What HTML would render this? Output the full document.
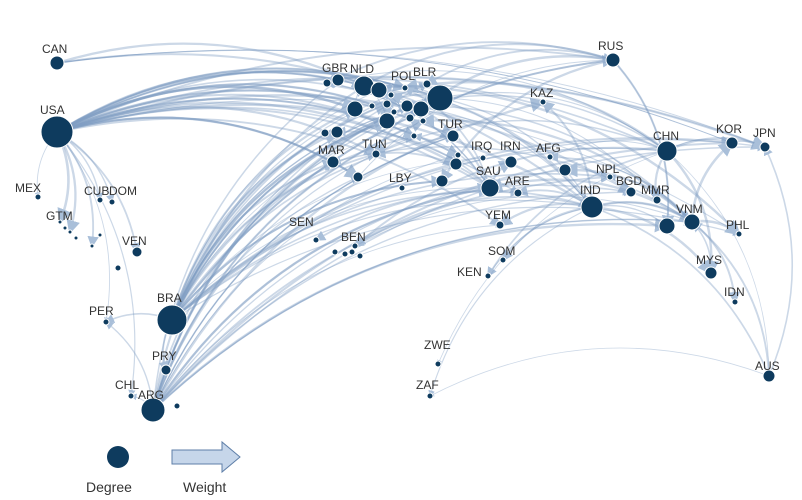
<!DOCTYPE html>
<html><head><meta charset="utf-8"><style>
html,body{margin:0;padding:0;background:#fff;}
svg{display:block;}
text{font-family:"Liberation Sans",sans-serif;font-size:12px;fill:#333;}
</style></head><body>
<svg id="s" width="802" height="500" viewBox="0 0 802 500" xmlns="http://www.w3.org/2000/svg">
<defs><marker id="a" markerWidth="6" markerHeight="6" refX="5" refY="3" orient="auto"><path d="M0,0L6,3L0,6z" fill="#a9bfd9"/></marker></defs>
<g id="e" fill="none" stroke="#7f9dc4" stroke-opacity="0.4"></g>
<g id="n" fill="#0e3b5e" stroke="#fff" stroke-width="1"></g>
<g id="t"></g>
<circle cx="118" cy="457" r="11" fill="#0e3b5e"/>
<path d="M172,450H222V442L240,457L222,472V464H172z" fill="#c6d6ea" stroke="#5f7fa8" stroke-width="1"/>
<text x="86" y="492" style="font-size:14px">Degree</text>
<text x="183" y="492" style="font-size:14px">Weight</text>
</svg>
<script>
(function(){
var N={CAN:[57,63,7],USA:[57,132,16],MEX:[38,197,3],CUB:[100,200,3],DOM:[112,202,3],VEN:[137,252,5],PER:[106,322,3],BRA:[172,320,15],PRY:[166,370,5],CHL:[131,396,3],ARG:[153,410,12],
g1:[60,222,2],g2:[65,228,2],g3:[70,232,2],g4:[76,238,2],g5:[92,246,2],g6:[118,268,3],g7:[100,235,2],g8:[177,406,3],
SEN:[316,240,3],BEN:[355,246,3],b1:[335,252,3],b2:[345,254,3],b3:[352,252,3],b4:[360,256,3],
n1:[327,83,4],GBR:[338,80,6],NLD:[364,86,10],n2:[379,90,8],n3:[391,95,3],POL:[405,88,3],BLR:[427,84,4],BIG:[440,98,13],n4:[355,109,8],n5:[372,106,3],n6:[387,104,4],n7:[394,112,3],n8:[407,106,6],n9:[421,109,8],n10:[410,118,4],n11:[423,121,3],n12:[387,121,8],n13:[325,133,4],n14:[337,132,6],n15:[414,136,3],TUR:[453,136,6],MAR:[333,162,6],TUN:[376,154,4],n16:[358,177,5],LBY:[402,188,3],n17:[442,181,6],n18:[458,155,3],n19:[456,164,6],IRQ:[483,158,3],IRN:[511,162,6],SAU:[490,188,9],ARE:[518,193,4],KAZ:[543,102,3],
AFG:[550,157,3],a2:[565,170,6],NPL:[610,177,3],BGD:[631,192,5],MMR:[657,200,4],IND:[592,207,11],v2:[667,226,8],VNM:[692,222,8],PHL:[739,234,3],CHN:[667,151,10],KOR:[732,143,6],JPN:[765,147,5],YEM:[500,225,4],SOM:[503,260,3],KEN:[488,276,3],MYS:[711,273,6],IDN:[735,302,3],AUS:[769,376,6],RUS:[613,60,7],ZWE:[438,364,3],ZAF:[430,396,3]};
var L={CAN:[42,51],USA:[40,112],MEX:[15,190],GTM:[46,218],CUB:[84,193],DOM:[109,193],VEN:[122,243],PER:[89,313],BRA:[157,300],PRY:[152,358],CHL:[115,387],ARG:[138,397],SEN:[289,224],BEN:[341,239],GBR:[322,70],NLD:[350,71],POL:[391,78],BLR:[413,74],MAR:[318,152],TUN:[362,146],TUR:[438,126],LBY:[389,180],IRQ:[471,148],IRN:[500,148],SAU:[476,173],ARE:[505,183],KAZ:[530,95],AFG:[536,150],NPL:[596,171],BGD:[616,183],MMR:[641,192],IND:[580,192],VNM:[676,211],PHL:[726,227],CHN:[653,138],KOR:[716,131],JPN:[753,135],YEM:[485,217],SOM:[488,253],KEN:[457,274],MYS:[696,262],IDN:[724,294],AUS:[755,368],RUS:[598,48],ZWE:[424,347],ZAF:[416,387]};
var E=[];
var keys=Object.keys(N);
var TOPN=keys.filter(function(k){return N[k][1]<240&&N[k][0]>300;});
var seed=7;function rnd(){seed=(seed*9301+49297)%233280;return seed/233280;}
function pick(a){return a[Math.floor(rnd()*a.length)];}
['USA','BRA','ARG'].forEach(function(h){for(var i=0;i<28;i++){E.push([h,pick(TOPN)]);}});
['CAN','BRA','USA'].forEach(function(h){for(var i=0;i<5;i++)E.push([h,pick(['CHN','KOR','JPN','RUS','IND','NLD','BIG'])]);});
['CHN','IND','RUS','BIG','SAU','VNM','NLD'].forEach(function(h){for(var i=0;i<8;i++){E.push([h,pick(TOPN)]);}});
[['USA','MEX'],['USA','CUB'],['USA','DOM'],['USA','g1'],['USA','g3'],['USA','g5'],['USA','VEN'],['USA','PER'],['BRA','PER'],['ARG','CHL'],['BRA','PRY'],['ARG','PER'],['USA','CHL'],['IND','BEN'],['IND','SEN'],['IND','KEN'],['IND','SOM'],['CHN','BEN'],['CHN','KEN'],['VNM','BEN'],['AUS','CHN'],['AUS','IND'],['AUS','JPN'],['AUS','ZAF'],['AUS','VNM'],['CHN','KOR'],['KOR','JPN'],['IND','VNM'],['VNM','MYS'],['VNM','IDN'],['IND','MYS'],['CHN','MYS'],['IND','ZAF'],['CHN','ZWE'],['IND','YEM'],['VNM','PHL'],['CHN','JPN']].forEach(function(p){E.push(p)});
var s='';
E.forEach(function(p){var a=N[p[0]],b=N[p[1]];if(!a||!b||a===b)return;var dx=b[0]-a[0],dy=b[1]-a[1];var d=Math.sqrt(dx*dx+dy*dy);if(d<20)return;var k=0.22;var px=-dy*k,py=dx*k;if(py>0){px=-px;py=-py;}var cx=(a[0]+b[0])/2+px,cy=(a[1]+b[1])/2+py;if(cy<15)cy=15;
s+='<path d="M'+a[0]+','+a[1]+'Q'+cx.toFixed(1)+','+cy.toFixed(1)+' '+b[0]+','+b[1]+'" stroke-width="'+(0.8+rnd()*1.8).toFixed(1)+'" marker-end="url(#a)"/>';});
document.getElementById('e').innerHTML=s;
var c='';for(var k in N){c+='<circle cx="'+N[k][0]+'" cy="'+N[k][1]+'" r="'+N[k][2]+'"/>';}
document.getElementById('n').innerHTML=c;
var t='';for(var k in L){t+='<text x="'+L[k][0]+'" y="'+(L[k][1]+2)+'">'+k+'</text>';}
document.getElementById('t').innerHTML=t;
})();
</script>
</body></html>
